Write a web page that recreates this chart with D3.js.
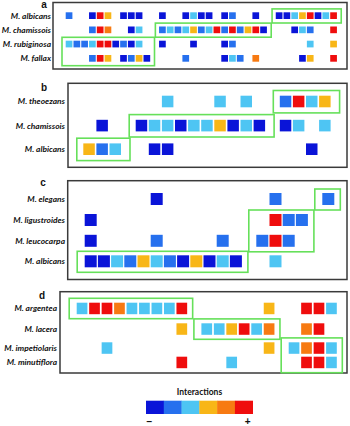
<!DOCTYPE html>
<html><head><meta charset="utf-8">
<script src="https://cdn.jsdelivr.net/npm/d3@7"></script>
<style>html,body{margin:0;padding:0;background:#fff;}svg{display:block;}</style>
</head><body>
<script>
// ---------- DATA ----------
// interaction level: 0 = none, 1 (dark blue, "−") ... 6 (red, "+")
const levels = [1, 2, 3, 4, 5, 6];
const levelColors = ["#0a14d8", "#2670ee", "#4ec5f3", "#f8b617", "#f77a12", "#ef0d0d"];

const aSpecies = ["M. albicans", "M. chamissois", "M. rubiginosa", "M. fallax"];
const aValues = [
  [2,0,0,1,6,4,0,1,1,1,0,0,1,0,0,1,3,1,1,0,1,2,0,0,1,0,0,1,1,3,4,6,1,3,6],
  [0,0,0,2,6,5,0,0,1,3,0,0,2,3,2,3,4,2,3,6,2,6,2,4,6,1,0,0,0,1,3,2,0,0,6],
  [3,2,2,3,6,6,1,2,1,3,0,0,1,0,0,0,1,0,0,0,1,2,0,0,0,0,0,0,0,0,0,3,0,0,4],
  [0,0,0,2,6,4,0,1,2,4,1,0,0,0,0,2,0,0,0,0,1,3,2,0,5,0,0,0,0,0,1,4,0,0,6]
];
// groups: [firstRow, lastRow, firstCol, lastCol]
const aGroups = [[2,3,0,10],[1,1,12,25],[0,0,27,34]];

const bSpecies = ["M. theoezans", "M. chamissois", "M. albicans"];
const bValues = [
  [0,0,0,0,0,0,3,0,0,0,3,0,3,0,0,2,6,3,4],
  [0,1,0,0,1,3,3,1,3,3,4,1,3,1,0,1,3,0,3],
  [4,2,3,0,0,1,1,0,0,0,0,0,0,0,0,0,0,1,0]
];
const bGroups = [[2,2,0,2],[1,1,4,13],[0,0,15,18]];

const cSpecies = ["M. elegans", "M. ligustroides", "M. leucocarpa", "M. albicans"];
const cValues = [
  [0,0,0,0,0,1,0,0,0,0,0,0,0,0,2,0,0,0,2],
  [1,0,0,0,0,0,0,0,0,0,0,0,0,0,6,2,2,0,0],
  [1,0,0,0,0,2,0,0,0,0,2,0,0,2,6,2,0,0,0],
  [1,1,3,2,4,3,2,1,4,1,3,1,0,0,3,0,0,0,0]
];
const cGroups = [[3,3,0,11],[1,2,13,16],[0,0,18,18]];

const dSpecies = ["M. argentea", "M. lacera", "M. impetiolaris", "M. minutiflora"];
const dValues = [
  [3,6,6,5,3,3,3,3,6,0,0,0,0,0,0,4,0,0,6,6,3],
  [0,0,0,0,0,0,0,0,4,0,3,3,4,6,3,5,0,0,5,6,0],
  [0,0,3,0,0,0,0,0,0,0,0,0,0,0,0,4,0,3,5,6,3],
  [0,0,0,0,0,0,0,0,6,0,0,0,3,0,0,0,0,0,6,6,3]
];
const dGroups = [[0,0,0,8],[1,1,10,15],[2,3,17,20]];

const legendTitle = "Interactions";
const legendEnds = ["−", "+"];

// ---------- LAYOUT ----------
const panels = [
  {letter:"a", species:aSpecies, values:aValues, groups:aGroups,
   frame:[53,2.5,347,69], letterPos:[44,8], labelX:51,
   col0:65.7, pitch:7.78, cw:6.7, rowIdx:[0,1,2,3], rowTop:[12.3,26.5,40.7,55], ch:6.7,
   pad:{l:3.7,r:4.3,t:3.4,b:4}},
  {letter:"b", species:bSpecies, values:bValues, groups:bGroups,
   frame:[68,83.3,347,167.3], letterPos:[44,91], labelX:65,
   col0:83.3, pitch:13.1, cw:11.5, rowIdx:[0,1,2], rowTop:[95.7,119.8,143.4], ch:11.6,
   pad:{l:6.5,r:9,t:5.2,b:5.6}},
  {letter:"c", species:cSpecies, values:cValues, groups:cGroups,
   frame:[67.7,180.7,347,279.5], letterPos:[43,186], labelX:65,
   col0:84.7, pitch:13.2, cw:12, rowIdx:[0,1,2,3], rowTop:[193,214,234.8,255.3], ch:12,
   pad:{l:7.5,r:6,t:4,b:5}},
  {letter:"d", species:dSpecies, values:dValues, groups:dGroups,
   frame:[60,291.7,347,373], letterPos:[42,299], labelX:57,
   col0:76.7, pitch:12.47, cw:10.7, rowIdx:[0,1,2,3], rowTop:[302.7,323.3,342.3,356.7], ch:11.5,
   pad:{l:7.5,r:5.5,t:4.4,b:4.5}}
];

const W = 350, H = 426;
const color = d3.scaleOrdinal().domain(levels).range(levelColors);
const svg = d3.select("body").append("svg").attr("width", W).attr("height", H);

const labelFont = "Lato, 'Open Sans', sans-serif";
const green = "#66e05a";

panels.forEach(p => {
  const g = svg.append("g");
  const x = d3.scaleLinear().domain([0, 1]).range([p.col0, p.col0 + p.pitch]);
  const y = d3.scaleLinear().domain(p.rowIdx).range(p.rowTop);
  const [fx0, fy0, fx1, fy1] = p.frame;

  // frame
  g.append("rect").attr("x", fx0).attr("y", fy0).attr("width", fx1 - fx0).attr("height", fy1 - fy0)
    .attr("fill", "none").attr("stroke", "#3a3a3a").attr("stroke-width", 1.5);

  // panel letter
  g.append("text").attr("x", p.letterPos[0]).attr("y", p.letterPos[1])
    .attr("text-anchor", "middle").attr("font-family", "'Liberation Sans', Arial, sans-serif")
    .attr("font-weight", "bold").attr("font-size", 10).attr("fill", "#111").text(p.letter);

  // row labels
  g.selectAll("text.lab").data(p.species).join("text").attr("class", "lab")
    .attr("x", p.labelX).attr("y", (d, i) => y(i) + p.ch / 2)
    .attr("dy", "0.35em").attr("text-anchor", "end")
    .attr("font-family", labelFont).attr("font-style", "italic").attr("font-weight", "bold")
    .attr("font-size", 8.4).attr("fill", "#111").text(d => d);

  // cells
  const cells = [];
  p.values.forEach((row, r) => row.forEach((v, c) => { if (v > 0) cells.push({r, c, v}); }));
  g.selectAll("rect.cell").data(cells).join("rect").attr("class", "cell")
    .attr("x", d => x(d.c)).attr("y", d => y(d.r))
    .attr("width", p.cw).attr("height", p.ch)
    .attr("fill", d => color(d.v));

  // green group boxes
  g.selectAll("rect.grp").data(p.groups).join("rect").attr("class", "grp")
    .attr("x", d => x(d[2]) - p.pad.l)
    .attr("y", d => y(d[0]) - p.pad.t)
    .attr("width", d => x(d[3]) + p.cw + p.pad.r - (x(d[2]) - p.pad.l))
    .attr("height", d => y(d[1]) + p.ch + p.pad.b - (y(d[0]) - p.pad.t))
    .attr("fill", "none").attr("stroke", green).attr("stroke-width", 1.6);
});

// legend
const lg = svg.append("g");
const lx = d3.scaleBand().domain(levels).range([146, 252.7]).padding(0);
lg.selectAll("rect").data(levels).join("rect")
  .attr("x", d => lx(d)).attr("y", 400.7).attr("width", lx.bandwidth() + 0.3).attr("height", 13.3)
  .attr("fill", d => color(d));
lg.append("text").attr("x", 199.5).attr("y", 395).attr("text-anchor", "middle")
  .attr("font-family", labelFont).attr("font-weight", "bold").attr("font-size", 8.5).attr("fill", "#111")
  .text(legendTitle);
lg.selectAll("text.end").data(legendEnds).join("text").attr("class", "end")
  .attr("x", (d, i) => i === 0 ? lx(levels[0]) + 3.5 : lx(levels[5]) + lx.bandwidth() - 5)
  .attr("y", 425).attr("text-anchor", "middle")
  .attr("font-family", "'Liberation Sans', Arial, sans-serif").attr("font-weight", "bold")
  .attr("font-size", 10).attr("fill", "#111").text(d => d);
</script>
</body></html>
